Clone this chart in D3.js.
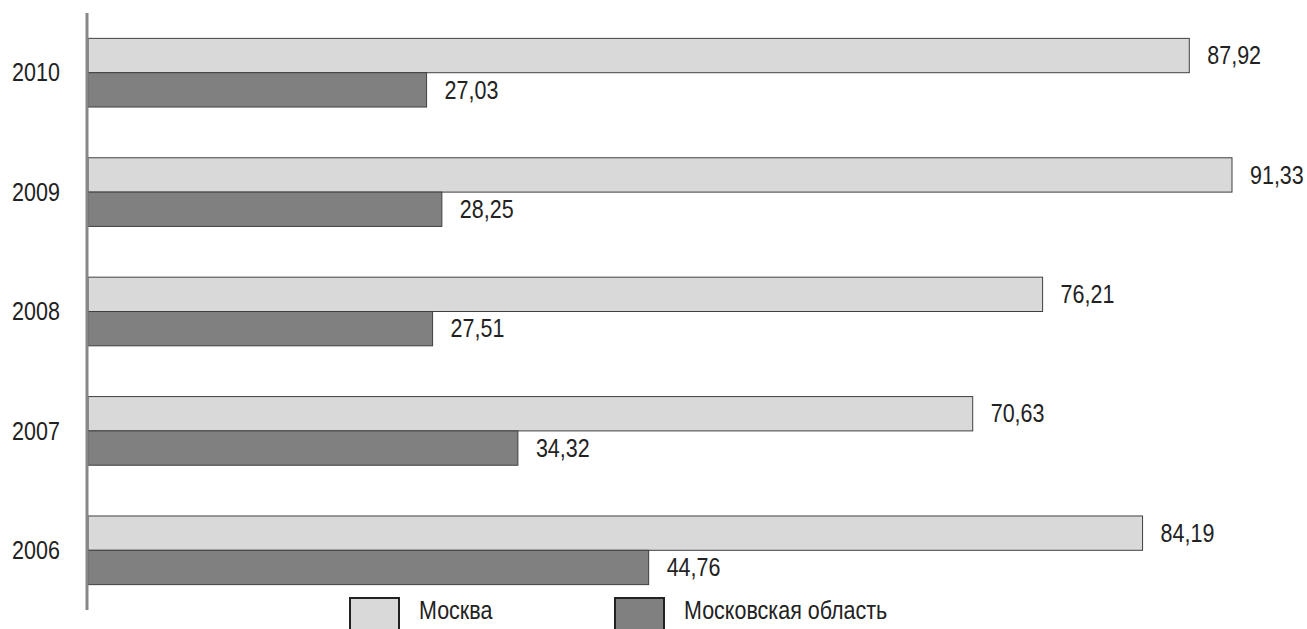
<!DOCTYPE html>
<html>
<head>
<meta charset="utf-8">
<script src="https://cdn.jsdelivr.net/npm/d3@7"></script>
<style>
  body { margin: 0; background: #fff; }
  text { font-family: "Liberation Sans", Arial, sans-serif; fill: #222; }
</style>
</head>
<body>
<div id="graph"></div>
<script>
const width = 1307,
    height = 629,
    left_pad = 88, // axis position
    top_pad = 13,
    bottom_pad = 19,
    fontSize = 25,
    squeeze = 0.86; // narrow the font a bit, like Arial Narrow

// data
const years = ["2010", "2009", "2008", "2007", "2006"];
const moscow = [87.92, 91.33, 76.21, 70.63, 84.19];
const oblast = [27.03, 28.25, 27.51, 34.32, 44.76];
const seriesNames = ["Москва", "Московская область"];
const colors = ["#d9d9d9", "#808080"];

const fmt = v => d3.format(".2f")(v).replace(".", ",");
const place = (x, y) => "translate(" + x + "," + y + ") scale(" + squeeze + ",1)";

const svg = d3.select("#graph")
    .append("svg")
    .attr("width", width)
    .attr("height", height);

// vertical band scale for the years
const yRange = d3.scaleBand()
    .domain(years)
    .range([top_pad, height - bottom_pad])
    .paddingInner(0.425)
    .paddingOuter(0.2125);

// inner scale: which series inside a year
const ySub = d3.scaleBand()
    .domain([0, 1])
    .range([0, yRange.bandwidth()]);

const xRange = d3.scaleLinear()
    .domain([0, 91.33])
    .range([left_pad, 1232]);

const rows = years.map((y, i) => ({ year: y, vals: [moscow[i], oblast[i]] }));

const groups = svg.selectAll("g.year")
    .data(rows)
    .enter()
    .append("g")
    .attr("class", "year")
    .attr("transform", d => "translate(0," + yRange(d.year) + ")");

const bars = groups.selectAll("g.bar")
    .data(d => d.vals.map((v, k) => ({ v: v, k: k })))
    .enter()
    .append("g");

bars.append("rect")
    .attr("x", xRange(0))
    .attr("y", d => ySub(d.k))
    .attr("width", d => xRange(d.v) - xRange(0))
    .attr("height", ySub.bandwidth())
    .attr("fill", d => colors[d.k])
    .attr("stroke", "#404040")
    .attr("stroke-width", 1);

bars.append("text")
    .attr("transform", d => place(xRange(d.v) + 18, ySub(d.k) + ySub.bandwidth() / 2))
    .attr("dy", "0.35em")
    .attr("font-size", fontSize)
    .text(d => fmt(d.v));

// year labels
svg.selectAll("text.year")
    .data(years)
    .enter()
    .append("text")
    .attr("class", "year")
    .attr("transform", d => place(36, yRange(d) + yRange.bandwidth() / 2))
    .attr("dy", "0.35em")
    .attr("text-anchor", "middle")
    .attr("font-size", fontSize)
    .text(d => d);

// axis line
svg.append("line")
    .attr("x1", left_pad - 1).attr("x2", left_pad - 1)
    .attr("y1", top_pad).attr("y2", height - bottom_pad)
    .attr("stroke", "#888")
    .attr("stroke-width", 3);

// legend
const legendX = [350, 615];
const legend = svg.selectAll("g.legend")
    .data(seriesNames)
    .enter()
    .append("g")
    .attr("class", "legend")
    .attr("transform", (d, i) => "translate(" + legendX[i] + ",598)");

legend.append("rect")
    .attr("x", 0).attr("y", 0)
    .attr("width", 49).attr("height", 40)
    .attr("fill", (d, i) => colors[i])
    .attr("stroke", "#222")
    .attr("stroke-width", 2);

legend.append("text")
    .attr("transform", place(69, 12))
    .attr("dy", "0.35em")
    .attr("font-size", fontSize)
    .text(d => d);
</script>
</body>
</html>
